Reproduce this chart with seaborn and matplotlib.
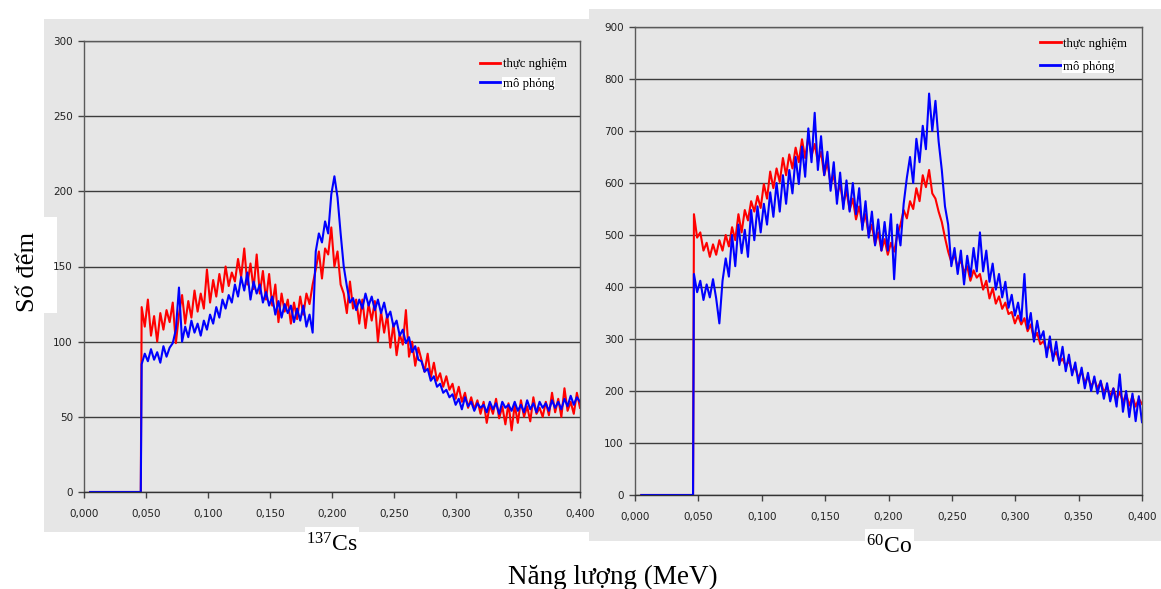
import numpy as np
import pandas as pd
import matplotlib
matplotlib.use("Agg")
import matplotlib.pyplot as plt
from matplotlib.patches import Rectangle
import seaborn as sns

# ---------------- data ----------------
series_names = ["thực nghiệm", "mô phỏng"]
series_colors = ["#ff0000", "#0000ff"]

x_ticks = [0.0, 0.05, 0.10, 0.15, 0.20, 0.25, 0.30, 0.35, 0.40]
x_tick_labels = ["0,000", "0,050", "0,100", "0,150", "0,200", "0,250", "0,300", "0,350", "0,400"]
cs_y_ticks = [0, 50, 100, 150, 200, 250, 300]
co_y_ticks = [0, 100, 200, 300, 400, 500, 600, 700, 800, 900]

panel_labels = [r"$\mathrm{^{137}Cs}$", r"$\mathrm{^{60}Co}$"]
y_label = "Số đếm"
x_label = "Năng lượng (MeV)"

# flat zero part before the threshold
baseline_energy = [0.005, 0.0458]
baseline_counts = [0, 0]
# channel energies (MeV) of the sampled spectrum
energy = np.linspace(0.0465, 0.400, 142)

cs_exp = [123, 110, 128, 104, 117, 100, 119, 108, 121, 113,
          126, 99, 118, 131, 112, 127, 116, 134, 120, 132,
          122, 148, 126, 141, 130, 145, 133, 150, 137, 146,
          140, 155, 143, 162, 138, 152, 135, 158, 132, 147,
          128, 145, 124, 138, 113, 132, 120, 128, 112, 126,
          115, 130, 118, 132, 125, 138, 148, 160, 142, 162,
          158, 176, 150, 160, 138, 132, 119, 140, 122, 128,
          112, 128, 109, 125, 114, 127, 100, 120, 106, 118,
          96, 112, 91, 105, 98, 121, 90, 100, 84, 96,
          88, 80, 92, 76, 86, 74, 79, 70, 77, 68,
          72, 62, 70, 60, 66, 56, 63, 55, 61, 52,
          60, 46, 58, 52, 62, 49, 57, 45, 59, 41,
          58, 46, 61, 50, 57, 47, 63, 52, 56, 50,
          60, 51, 66, 53, 62, 50, 69, 54, 60, 52,
          66, 56]

cs_sim = [85, 92, 87, 95, 88, 93, 86, 97, 90, 96,
          99, 108, 136, 100, 110, 103, 114, 106, 112, 104,
          114, 108, 118, 112, 123, 116, 128, 122, 131, 126,
          138, 130, 143, 134, 146, 128, 140, 132, 138, 126,
          133, 124, 130, 118, 127, 116, 125, 119, 124, 113,
          122, 114, 124, 110, 118, 106, 160, 172, 166, 180,
          172, 198, 210, 196, 172, 150, 137, 126, 129, 121,
          128, 122, 132, 124, 130, 121, 128, 119, 126, 116,
          120, 110, 114, 104, 108, 99, 103, 93, 97, 88,
          87, 80, 82, 74, 77, 70, 72, 66, 68, 63,
          65, 58, 62, 55, 63, 57, 60, 54, 59, 56,
          58, 53, 60, 55, 59, 52, 60, 56, 58, 54,
          60, 54, 58, 53, 61, 55, 59, 53, 60, 56,
          59, 54, 61, 56, 60, 55, 62, 57, 64, 58,
          63, 60]

co_exp = [540, 495, 505, 470, 485, 458, 482, 462, 490, 470,
          500, 478, 515, 490, 540, 505, 548, 528, 565, 545,
          575, 552, 598, 570, 622, 590, 628, 602, 648, 615,
          655, 628, 668, 640, 684, 648, 690, 652, 675, 640,
          660, 615, 640, 598, 615, 575, 598, 560, 585, 548,
          570, 530, 555, 518, 540, 500, 520, 482, 505, 470,
          492, 462, 485, 468, 500, 520, 548, 532, 565, 550,
          590, 565, 615, 592, 625, 580, 570, 545, 525, 495,
          468, 448, 462, 438, 452, 428, 440, 412, 432, 418,
          425, 395, 412, 378, 398, 368, 382, 358, 370, 348,
          352, 330, 345, 328, 340, 315, 328, 300, 312, 290,
          296, 278, 288, 265, 275, 255, 262, 248, 258, 238,
          245, 225, 238, 215, 228, 208, 222, 205, 218, 198,
          208, 190, 205, 184, 198, 178, 195, 172, 190, 170,
          185, 175]

co_sim = [425, 390, 412, 375, 405, 380, 415, 378, 330, 412,
          455, 420, 500, 440, 520, 465, 510, 458, 548, 490,
          555, 505, 560, 520, 582, 535, 600, 545, 615, 560,
          625, 580, 650, 598, 670, 612, 705, 640, 735, 625,
          690, 615, 660, 585, 640, 560, 620, 550, 605, 545,
          600, 540, 590, 510, 565, 495, 545, 480, 530, 470,
          525, 470, 540, 415, 520, 480, 560, 610, 650, 600,
          685, 640, 710, 665, 772, 700, 758, 680, 625, 555,
          520, 440, 475, 425, 470, 405, 460, 420, 475, 430,
          505, 430, 470, 410, 445, 395, 425, 380, 410, 360,
          385, 345, 370, 335, 425, 320, 350, 295, 335, 300,
          315, 265, 305, 258, 295, 250, 285, 238, 270, 230,
          255, 215, 245, 205, 235, 200, 228, 195, 220, 185,
          215, 180, 205, 170, 232, 160, 200, 150, 195, 142,
          190, 140]

# ---------------- styling ----------------
plt.rcParams["mathtext.fontset"] = "custom"
plt.rcParams["mathtext.rm"] = "Liberation Serif"
plt.rcParams["font.family"] = ["DejaVu Sans"]

W, H = 1161, 589
fig = plt.figure(figsize=(W / 100, H / 100), dpi=100)
fig.patch.set_facecolor("white")

PANEL = "#e6e6e6"


def fx(px):
    return px / W


def fy(py):
    return 1 - py / H


# panel backgrounds
fig.patches.append(Rectangle((fx(44), fy(532)), fx(589 - 44), (532 - 19) / H,
                             transform=fig.transFigure, facecolor=PANEL,
                             edgecolor="none", zorder=-3))
fig.patches.append(Rectangle((fx(589), fy(541)), fx(1161 - 589), (541 - 9) / H,
                             transform=fig.transFigure, facecolor=PANEL,
                             edgecolor="none", zorder=-2))


def make_frame(exp, sim):
    parts = []
    for name, vals in zip(series_names, [exp, sim]):
        e = np.concatenate([baseline_energy, energy])
        c = np.concatenate([baseline_counts, vals])
        parts.append(pd.DataFrame({"E": e, "N": c, "series": name}))
    return pd.concat(parts, ignore_index=True)


def draw_panel(ax, exp, sim, yticks, leg_anchor, leg_spacing):
    df = make_frame(exp, sim)
    sns.lineplot(data=df, x="E", y="N", hue="series", hue_order=series_names,
                 palette=series_colors, estimator=None, sort=False,
                 linewidth=1.5, ax=ax)
    ax.set_facecolor("none")
    ax.set_xlim(x_ticks[0], x_ticks[-1])
    ax.set_ylim(yticks[0], yticks[-1])
    ax.set_xticks(x_ticks)
    ax.set_xticklabels(x_tick_labels)
    ax.set_yticks(yticks)
    ax.set_xlabel("")
    ax.set_ylabel("")
    ax.grid(axis="y", color="#3c3c3c", linewidth=1.0, zorder=0)
    ax.grid(axis="x", visible=False)
    ax.set_axisbelow(True)
    for s in ax.spines.values():
        s.set_color("#5a5a5a")
        s.set_linewidth(1.0)
    ax.spines["bottom"].set_color("#333333")
    ax.tick_params(axis="x", direction="out", length=4, width=1, color="#444444",
                   pad=8, labelsize=7.5, labelcolor="#222222")
    ax.tick_params(axis="y", direction="out", length=4, width=1, color="#444444",
                   pad=4, labelsize=7.5, labelcolor="#222222")
    handles, labels = ax.get_legend_handles_labels()
    leg = ax.legend(handles, labels, loc="upper left", bbox_to_anchor=leg_anchor,
                    frameon=False, borderpad=0, borderaxespad=0,
                    handlelength=1.6, handletextpad=0.2, labelspacing=leg_spacing,
                    prop={"family": "Liberation Serif", "size": 9.2})
    for line in leg.get_lines():
        line.set_linewidth(2.0)
    leg.get_texts()[1].set_bbox(dict(facecolor="white", edgecolor="none", pad=0.5))


ax1 = fig.add_axes([fx(84), fy(492), (580 - 84) / W, (492 - 41) / H])
ax2 = fig.add_axes([fx(635), fy(495), (1142 - 635) / W, (495 - 27) / H])

draw_panel(ax1, cs_exp, cs_sim, cs_y_ticks, (0.798, 0.962), 0.6)
draw_panel(ax2, co_exp, co_sim, co_y_ticks, (0.799, 0.977), 0.85)

# white boxes behind outer labels
for (x0, y0, x1, y1) in [(0, 217, 57, 313), (305, 527, 359, 562), (865, 529, 914, 562)]:
    fig.patches.append(Rectangle((fx(x0), fy(y1)), (x1 - x0) / W, (y1 - y0) / H,
                                 transform=fig.transFigure, facecolor="white",
                                 edgecolor="none", zorder=-1))

fig.text(fx(28), fy(272), y_label, rotation=90, ha="center", va="center",
         family="Liberation Serif", fontsize=19, color="black")
fig.text(fx(306), fy(552), panel_labels[0], ha="left", va="baseline",
         fontsize=17, color="black")
fig.text(fx(866), fy(553), panel_labels[1], ha="left", va="baseline",
         fontsize=17, color="black")
fig.text(fx(613), fy(584), x_label, ha="center", va="baseline",
         family="Liberation Serif", fontsize=19.5, color="black")

fig.savefig("out.png", dpi=100, facecolor="white")
